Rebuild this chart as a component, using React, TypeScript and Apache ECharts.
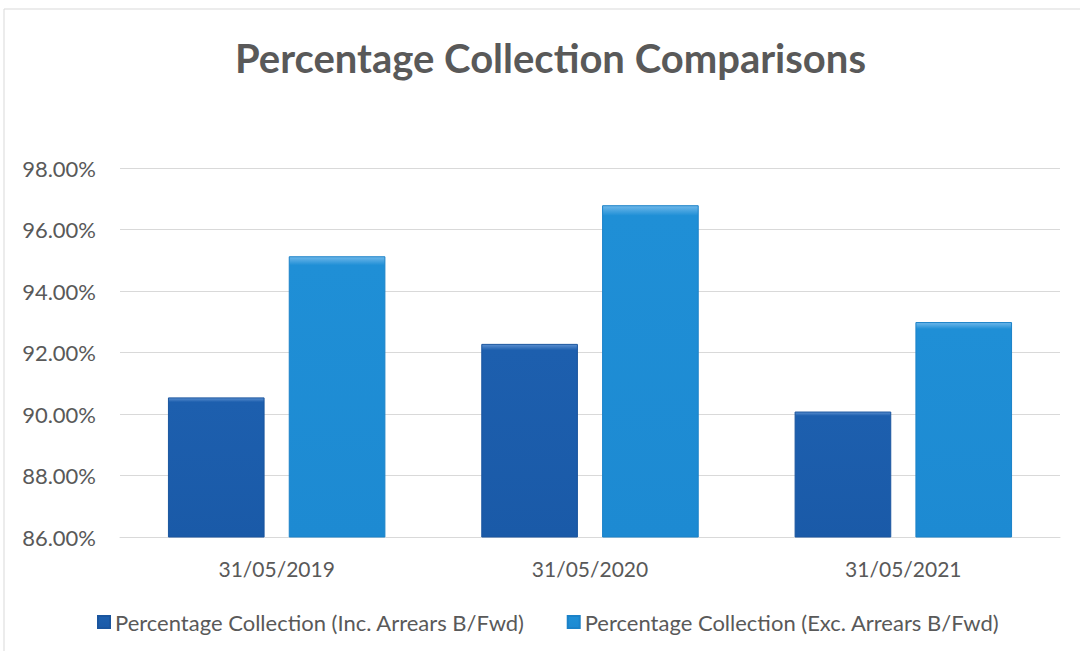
import React, { useEffect, useRef } from "react";
import * as echarts from "echarts";

const categories = ["31/05/2019", "31/05/2020", "31/05/2021"];
const seriesNames = [
  "Percentage Collection (Inc. Arrears B/Fwd)",
  "Percentage Collection (Exc. Arrears B/Fwd)",
];
const incArrears = [90.54, 92.28, 90.08];
const excArrears = [95.13, 96.79, 92.99];

const FONT = "Lato, 'Open Sans', sans-serif";

function barColor(top: string, mid: string, bottom: string) {
  return new echarts.graphic.LinearGradient(0, 0, 0, 1, [
    { offset: 0, color: top },
    { offset: 0.03, color: mid },
    { offset: 1, color: bottom },
  ]);
}

export default function App() {
  const ref = useRef<HTMLDivElement>(null);
  useEffect(() => {
    if (!ref.current) return;
    const chart = echarts.init(ref.current, undefined, { renderer: "svg" });
    chart.setOption({
      animation: false,
      backgroundColor: "#ffffff",
      title: {
        text: "Percentage Collection Comparisons",
        left: 230,
        top: 33,
        textStyle: {
          fontFamily: FONT,
          fontWeight: "bold",
          fontSize: 40,
          color: "#595959",
        },
      },
      graphic: [
        {
          type: "rect",
          shape: { x: 4, y: 9, width: 1090, height: 660 },
          style: { fill: "none", stroke: "#d9d9d9", lineWidth: 1 },
          silent: true,
        },
      ],
      grid: { left: 120, right: 20, top: 168, bottom: 114 },
      legend: {
        bottom: 13,
        left: 92,
        itemWidth: 12,
        itemHeight: 12,
        itemGap: 42,
        icon: "rect",
        textStyle: { fontFamily: FONT, fontSize: 22, color: "#595959" },
        data: seriesNames,
      },
      xAxis: {
        type: "category",
        data: categories,
        axisLine: { lineStyle: { color: "#d9d9d9" } },
        axisTick: { show: false },
        axisLabel: {
          fontFamily: FONT,
          fontSize: 21,
          color: "#595959",
          margin: 21,
        },
      },
      yAxis: {
        type: "value",
        min: 86,
        max: 98,
        interval: 2,
        axisLine: { show: false },
        axisTick: { show: false },
        splitLine: { lineStyle: { color: "#d9d9d9" } },
        axisLabel: {
          fontFamily: FONT,
          fontSize: 22,
          color: "#595959",
          margin: 24,
          formatter: (v: number) => v.toFixed(2) + "%",
        },
      },
      series: [
        {
          name: seriesNames[0],
          type: "bar",
          data: incArrears,
          barGap: "25%",
          barCategoryGap: "30.6%",
          itemStyle: {
            color: barColor("#5b8fd0", "#1d5fae", "#1a5aa8"),
            borderColor: "#1a559e",
            borderWidth: 1,
          },
        },
        {
          name: seriesNames[1],
          type: "bar",
          data: excArrears,
          itemStyle: {
            color: barColor("#6fb8ea", "#1f8fd6", "#1d8ad2"),
            borderColor: "#1b82c8",
            borderWidth: 1,
          },
        },
      ],
    });
    return () => chart.dispose();
  }, []);
  return (
    <div
      ref={ref}
      style={{ position: "absolute", left: 0, top: 0, width: 1080, height: 651 }}
    />
  );
}
